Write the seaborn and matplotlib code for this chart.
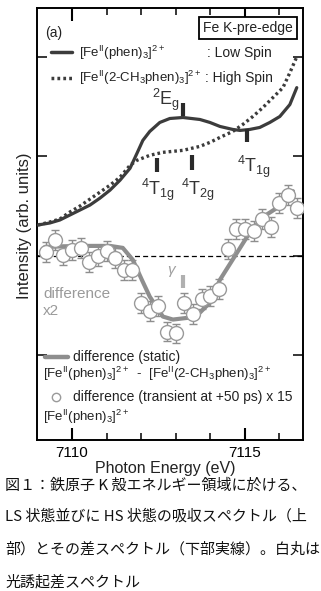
import matplotlib
matplotlib.use("Agg")
import matplotlib.pyplot as plt
import numpy as np
import pandas as pd
import seaborn as sns

# ---------------- data ----------------
ls_energy = [7109.02, 7109.36, 7109.65, 7109.94, 7110.23, 7110.52, 7110.81, 7111.10, 7111.39,
             7111.68, 7111.88, 7112.05, 7112.25, 7112.54, 7112.83, 7113.21, 7113.70, 7113.99,
             7114.28, 7114.65, 7114.86, 7115.14, 7115.43, 7115.72, 7116.01, 7116.30, 7116.50]
ls_intensity = [0.31, 0.33, 0.36, 0.41, 0.46, 0.51, 0.58, 0.66, 0.76,
                0.88, 1.03, 1.16, 1.25, 1.34, 1.38, 1.39, 1.37, 1.34,
                1.30, 1.27, 1.26, 1.27, 1.29, 1.34, 1.40, 1.52, 1.69]

hs_energy = [7109.02, 7109.36, 7109.65, 7109.94, 7110.23, 7110.52, 7110.81, 7111.10, 7111.39,
             7111.68, 7111.88, 7112.25, 7112.63, 7113.21, 7113.70, 7113.99, 7114.28, 7114.65,
             7114.94, 7115.23, 7115.52, 7115.81, 7116.10, 7116.30, 7116.50]
hs_intensity = [0.31, 0.34, 0.37, 0.44, 0.50, 0.57, 0.64, 0.71, 0.79,
                0.91, 0.96, 1.01, 1.04, 1.06, 1.10, 1.14, 1.19, 1.25,
                1.32, 1.40, 1.49, 1.59, 1.69, 1.84, 2.00]

static_energy = [7109.22, 7110.23, 7111.10, 7111.47, 7111.76, 7112.02, 7112.25, 7112.63,
                 7112.92, 7113.41, 7113.70, 7113.99, 7114.28, 7115.06, 7115.52, 7115.92, 7116.39]
static_diff = [0.09, 0.10, 0.10, 0.08, -0.04, -0.24, -0.41, -0.61,
               -0.64, -0.62, -0.57, -0.47, -0.24, 0.19, 0.39, 0.48, 0.65]

transient_energy = [7109.25, 7109.50, 7109.75, 7110.00, 7110.25, 7110.50, 7110.75, 7111.00,
                    7111.25, 7111.50, 7111.75, 7112.00, 7112.25, 7112.50, 7112.75, 7113.00,
                    7113.25, 7113.50, 7113.75, 7114.00, 7114.25, 7114.50, 7114.75, 7115.00,
                    7115.25, 7115.50, 7115.75, 7116.00, 7116.25, 7116.50]
transient_diff = [0.04, 0.16, 0.01, 0.06, 0.08, -0.06, 0.00, 0.05,
                  -0.02, -0.14, -0.14, -0.47, -0.55, -0.50, -0.76, -0.78,
                  -0.47, -0.58, -0.43, -0.40, -0.33, 0.07, 0.27, 0.27,
                  0.25, 0.37, 0.29, 0.53, 0.61, 0.48]
transient_err = [0.10] * 30

term_labels = [r"$^{2}$E$_{\rm g}$", r"$^{4}$T$_{\rm 1g}$", r"$^{4}$T$_{\rm 2g}$", r"$^{4}$T$_{\rm 1g}$"]
term_energy = [7113.20, 7112.46, 7113.47, 7115.06]
term_bar_low = [1.41, 0.84, 0.86, 1.14]
term_bar_high = [1.54, 0.98, 1.01, 1.27]
gamma_energy = 7113.20
gamma_bar = [-0.32, -0.19]

x_major = [7110, 7115]
x_minor = [7111, 7112, 7113, 7114, 7116]
y_ticks = [-1, 0, 1, 2]

caption_lines = ["図１：鉄原子 K 殻エネルギー領域に於ける、",
                 "LS 状態並びに HS 状態の吸収スペクトル（上",
                 "部）とその差スペクトル（下部実線）。白丸は",
                 "光誘起差スペクトル"]

# ---------------- style ----------------
sns.set_style("ticks")
plt.rcParams["font.family"] = ["Liberation Sans", "DejaVu Sans"]
plt.rcParams["mathtext.fontset"] = "custom"
plt.rcParams["mathtext.rm"] = "Liberation Sans"
plt.rcParams["mathtext.it"] = "Liberation Sans:italic"
plt.rcParams["mathtext.bf"] = "Liberation Sans:bold"

W, H = 321, 591
fig = plt.figure(figsize=(W / 100, H / 100), dpi=100)
L, R, T, B = 37, 303, 8, 440
ax = fig.add_axes([L / W, 1 - B / H, (R - L) / W, (B - T) / H])

dark = "#3c3c3c"
gray = "#8e8e8e"

df_ls = pd.DataFrame({"E": ls_energy, "I": ls_intensity})
df_hs = pd.DataFrame({"E": hs_energy, "I": hs_intensity})
df_st = pd.DataFrame({"E": static_energy, "I": static_diff})

ax.axhline(0, color="black", lw=0.9, ls=(0, (4, 2.5)), zorder=1)

sns.lineplot(data=df_ls, x="E", y="I", ax=ax, color=dark, lw=2.3, sort=False,
             estimator=None, zorder=3)
sns.lineplot(data=df_hs, x="E", y="I", ax=ax, color=dark, lw=2.4, sort=False,
             estimator=None, ls=(0, (0.8, 0.9)), zorder=3)
sns.lineplot(data=df_st, x="E", y="I", ax=ax, color=gray, lw=3.0, sort=False,
             estimator=None, zorder=2)

ax.errorbar(transient_energy, transient_diff, yerr=transient_err, fmt="none",
            ecolor=gray, elinewidth=1.0, capsize=2.8, capthick=1.0, zorder=4)
sns.scatterplot(x=transient_energy, y=transient_diff, ax=ax, s=100, marker="o",
                facecolor="white", edgecolor="#9a9a9a", linewidth=1.0, zorder=5)

# term markers
for e, lo, hi in zip(term_energy, term_bar_low, term_bar_high):
    ax.plot([e, e], [lo, hi], color="#2a2a2a", lw=3.0, solid_capstyle="butt", zorder=6)
ax.plot([gamma_energy, gamma_energy], gamma_bar, color="#b0b0b0", lw=3.0,
        solid_capstyle="butt", zorder=6)

term_text_pos = [(7112.72, 1.52), (7112.49, 0.61), (7113.64, 0.61), (7115.26, 0.84)]
for lab, (tx, ty) in zip(term_labels, term_text_pos):
    ax.text(tx, ty, lab, fontsize=13, color="#333333", ha="center", va="baseline")
ax.text(7112.89, -0.16, r"$\gamma$", fontsize=11, color="#a0a0a0", ha="center", va="center")

ax.set_xlim(7108.99, 7116.68)
ax.set_ylim(-1.85, 2.49)
ax.set_xticks(x_major)
ax.set_xticks(x_minor, minor=True)
ax.set_xticklabels([str(v) for v in x_major])
ax.set_yticks(y_ticks)
ax.set_yticklabels([])
ax.set_xlabel("")
ax.set_ylabel("")
ax.tick_params(axis="x", which="major", direction="in", top=True, bottom=True,
               length=9, width=1.5, labelsize=11, pad=4, colors="black")
ax.tick_params(axis="x", which="minor", direction="in", top=True, bottom=True,
               length=5, width=1.3)
ax.tick_params(axis="y", which="major", direction="in", left=True, right=True,
               length=7, width=1.3)
for sp in ax.spines.values():
    sp.set_linewidth(1.4)
    sp.set_color("black")


def px(x, y):
    return x / W, 1 - y / H


tcol = "#222222"
fs_leg = 9.5
fig.text(*px(45, 37), "(a)", fontsize=10, color=tcol, va="baseline")
fig.text(*px(248, 32), "Fe K-pre-edge", fontsize=10, color=tcol, ha="center", va="baseline",
         bbox=dict(boxstyle="square,pad=0.3", fc="white", ec="black", lw=1.3))

# upper legend
fig.add_artist(plt.Line2D([51 / W, 72 / W], [1 - 52 / H, 1 - 52 / H], color=dark, lw=2.5))
fig.add_artist(plt.Line2D([51 / W, 72 / W], [1 - 78 / H, 1 - 78 / H], color=dark, lw=2.5,
                          ls=(0, (0.8, 0.9))))
fig.text(*px(79, 57), r"[Fe$^{\rm II}$(phen)$_3$]$^{2+}$", fontsize=fs_leg, color=tcol,
         va="baseline")
fig.text(*px(207, 57), ": Low Spin", fontsize=10, color=tcol, va="baseline")
fig.text(*px(79, 82), r"[Fe$^{\rm II}$(2-CH$_3$phen)$_3$]$^{2+}$", fontsize=fs_leg, color=tcol,
         va="baseline")
fig.text(*px(205, 82), ": High Spin", fontsize=10, color=tcol, va="baseline")

fig.text(*px(43, 298), "difference", fontsize=11, color="#9a9a9a", va="baseline")
fig.text(*px(43, 315), "x2", fontsize=11, color="#9a9a9a", va="baseline")

# lower legend
fig.add_artist(plt.Line2D([45 / W, 68 / W], [1 - 357 / H, 1 - 357 / H], color=gray, lw=3.2))
fig.text(*px(73, 361), "difference (static)", fontsize=10, color=tcol, va="baseline")
fig.text(*px(43, 378), r"[Fe$^{\rm II}$(phen)$_3$]$^{2+}$  -  [Fe$^{\rm II}$(2-CH$_3$phen)$_3$]$^{2+}$",
         fontsize=fs_leg, color=tcol, va="baseline")
fig.add_artist(plt.Line2D([56 / W], [1 - 397 / H], marker="o", ms=6, mfc="white",
                          mec="#9a9a9a", mew=1.0, ls="none"))
fig.text(*px(73, 401), "difference (transient at +50 ps) x 15", fontsize=10, color=tcol,
         va="baseline")
fig.text(*px(43, 421), r"[Fe$^{\rm II}$(phen)$_3$]$^{2+}$", fontsize=fs_leg, color=tcol,
         va="baseline")

# axis labels
fig.text(*px(165, 473), "Photon Energy (eV)", fontsize=11.5, color=tcol, ha="center",
         va="baseline")
fig.text(*px(25, 226), "Intensity (arb. units)", fontsize=12, color=tcol, ha="center",
         va="center", rotation=90)

# caption
cap_base = [490, 521, 554, 587]
for line, cy in zip(caption_lines, cap_base):
    fig.text(*px(5, cy), line, fontsize=10.8, color="#111111", va="baseline",
             family=["Noto Sans CJK JP", "DejaVu Sans"])

fig.savefig("out.png", dpi=100)
